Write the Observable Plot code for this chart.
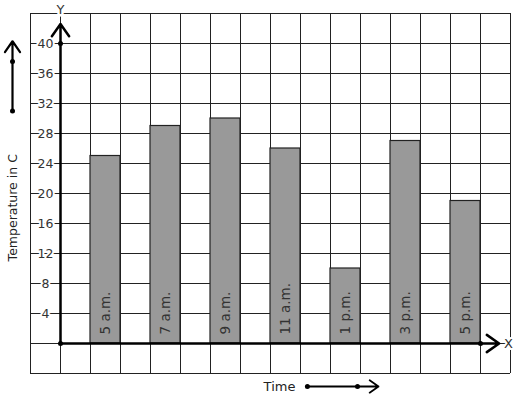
<!DOCTYPE html>
<html>
<head>
<meta charset="utf-8">
<script src="https://cdn.jsdelivr.net/npm/d3@7"></script>
<script src="https://cdn.jsdelivr.net/npm/@observablehq/plot@0.6"></script>
<style>
  html, body { margin: 0; padding: 0; background: #fff; }
</style>
</head>
<body>
<div id="chart"></div>
<script>
const times = ["5 a.m.", "7 a.m.", "9 a.m.", "11 a.m.", "1 p.m.", "3 p.m.", "5 p.m."];
const temps = [25, 29, 30, 26, 10, 27, 19];
const yTicks = [4, 8, 12, 16, 20, 24, 28, 32, 36, 40];
const gridX = d3.range(-1, 16, 1);
const gridY = d3.range(-4, 45, 4);

const bars = times.map((t, i) => ({ time: t, temp: temps[i], x1: 2 * i + 1, x2: 2 * i + 2 }));
const ink = "#222";

const chart = Plot.plot({
  width: 517,
  height: 399,
  margin: 0,
  style: { fontFamily: "DejaVu Sans", fontSize: "12px", background: "white", overflow: "visible" },
  x: { type: "linear", domain: [-1, 15], range: [30, 510], axis: null },
  y: { type: "linear", domain: [-4, 44], range: [373, 13], axis: null },
  marks: [
    Plot.ruleX(gridX, { x: d => d, y1: -4, y2: 44, stroke: ink, strokeWidth: 1 }),
    Plot.ruleY(gridY, { y: d => d, x1: -1, x2: 15, stroke: ink, strokeWidth: 1 }),
    Plot.rectY(bars, { x1: "x1", x2: "x2", y1: 0, y2: "temp", fill: "#999999", stroke: ink, strokeWidth: 1.2 }),
    Plot.text(bars, { x: d => d.x1 + 0.5, y: 0, text: "time", rotate: -90, textAnchor: "start", lineAnchor: "middle", dy: -9, fill: "#333", fontSize: 13.5 }),
    // tick labels with halo
    Plot.text(yTicks, { x: -0.5, y: d => d, text: d => String(d), fill: "#333", stroke: "white", strokeWidth: 4, fontSize: 12.5 }),
    // axes
    Plot.arrow([{ a: 0, b: 0, c: 0, d: 42.6 }], { x1: "a", y1: "b", x2: "c", y2: "d", stroke: "black", strokeWidth: 2.5, headLength: 9, headAngle: 70, bend: 0 }),
    Plot.arrow([{ a: 0, b: 0, c: 14.62, d: 0 }], { x1: "a", y1: "b", x2: "c", y2: "d", stroke: "black", strokeWidth: 2.5, headLength: 9, headAngle: 70, bend: 0 }),
    Plot.dot([[0, 0], [0, 40], [14, 0]], { x: d => d[0], y: d => d[1], r: 2.5, fill: "black" }),
    Plot.text(["Y"], { x: 0, y: 44, dy: -4, text: d => d, fill: "#333", stroke: "white", strokeWidth: 5, fontSize: 13 }),
    Plot.text(["X"], { x: 14.93, y: 0, text: d => d, fill: "#333", stroke: "white", strokeWidth: 4, fontSize: 13 }),
    // axis titles
    Plot.text(["Temperature in C"], { x: -1.6, y: 18.1, text: d => d, rotate: -90, fill: "#222", fontSize: 12.5 }),
    Plot.text(["Time"], { x: 7.3, y: -5.75, text: d => d, fill: "#222", fontSize: 13 }),
    // direction arrows
    Plot.arrow([{ a: -1.6, b: 31, c: -1.6, d: 40.3 }], { x1: "a", y1: "b", x2: "c", y2: "d", stroke: "black", strokeWidth: 2.2, headLength: 9, headAngle: 70, bend: 0 }),
    Plot.dot([[-1.6, 31], [-1.6, 37.6]], { x: d => d[0], y: d => d[1], r: 2.5, fill: "black" }),
    Plot.arrow([{ a: 8.23, b: -5.73, c: 10.6, d: -5.73 }], { x1: "a", y1: "b", x2: "c", y2: "d", stroke: "black", strokeWidth: 1.8, headLength: 9, headAngle: 70, bend: 0 }),
    Plot.dot([[8.23, -5.73], [9.9, -5.73]], { x: d => d[0], y: d => d[1], r: 2.5, fill: "black" })
  ]
});
document.getElementById("chart").appendChild(chart);
</script>
</body>
</html>
